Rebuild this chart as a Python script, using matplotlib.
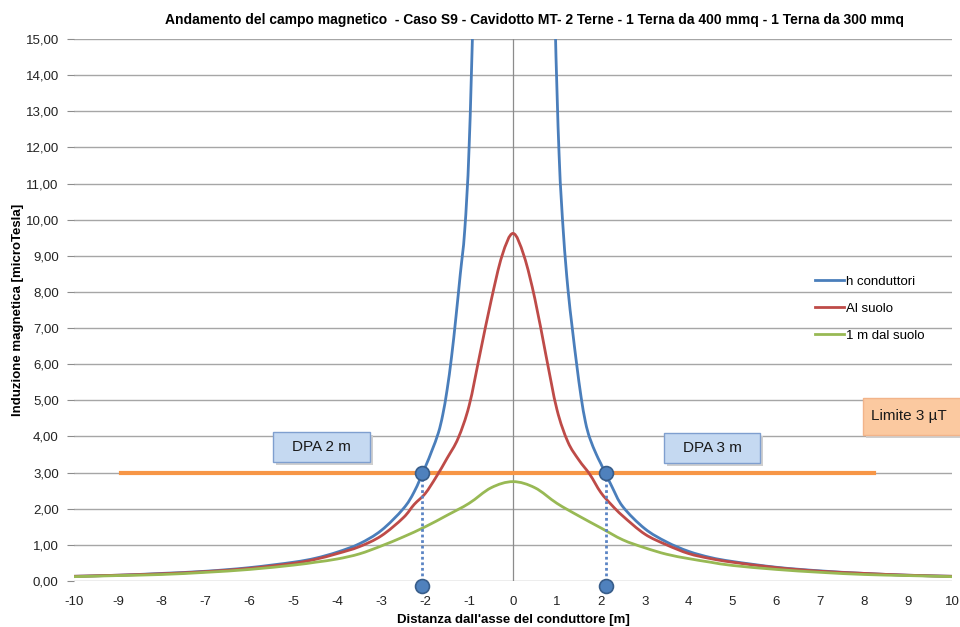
import numpy as np
import matplotlib
matplotlib.use("Agg")
import matplotlib.pyplot as plt
from matplotlib.patches import Rectangle, PathPatch
from matplotlib.path import Path
from matplotlib.lines import Line2D
from matplotlib.ticker import FuncFormatter

plt.rcParams['font.family'] = ['Liberation Sans', 'DejaVu Sans']
plt.rcParams['axes.unicode_minus'] = False

title = "Andamento del campo magnetico  - Caso S9 - Cavidotto MT- 2 Terne - 1 Terna da 400 mmq - 1 Terna da 300 mmq"
x_label = "Distanza dall'asse del conduttore [m]"
y_label = "Induzione magnetica [microTesla]"
series_names = ["h conduttori", "Al suolo", "1 m dal suolo"]

# h conduttori (goes off the chart near the axis)
x_blue = [-10, -9, -8, -7, -6, -5, -4.5, -4, -3.5, -3, -2.5, -2.25, -2, -1.85, -1.7, -1.6, -1.5, -1.4,
          -1.3, -1.2, -1.1, -1.0, -0.9, -0.8, 0.8, 0.95, 1.05, 1.15, 1.25, 1.35, 1.45, 1.55, 1.65,
          1.75, 1.9, 2.0, 2.25, 2.5, 3.0, 3.5, 4, 4.5, 5, 6, 7, 8, 9, 10]
y_blue = [0.13, 0.16, 0.21, 0.27, 0.37, 0.52, 0.63, 0.80, 1.03, 1.40, 2.00, 2.47, 3.15, 3.60, 4.10,
          4.60, 5.30, 6.2, 7.3, 8.5, 9.7, 12.0, 16.5, 25.0, 25.0, 16.0, 11.8, 9.6, 8.1, 7.0, 6.0,
          5.1, 4.40, 3.95, 3.50, 3.25, 2.62, 2.06, 1.45, 1.08, 0.82, 0.65, 0.54, 0.38, 0.28, 0.21,
          0.16, 0.13]

# Al suolo
x_red = [-10, -9, -8, -7, -6, -5, -4.5, -4, -3.5, -3, -2.5, -2.25, -2, -1.75, -1.5, -1.25, -1, -0.75,
         -0.5, -0.25, 0, 0.25, 0.5, 0.75, 1, 1.25, 1.5, 1.75, 2, 2.25, 2.5, 3, 3.5, 4, 4.5, 5, 6, 7,
         8, 9, 10]
y_red = [0.13, 0.16, 0.20, 0.26, 0.35, 0.49, 0.60, 0.76, 0.95, 1.25, 1.75, 2.12, 2.42, 2.88, 3.40, 3.95,
         4.85, 6.30, 7.75, 9.00, 9.62, 9.00, 7.80, 6.25, 4.75, 3.85, 3.35, 2.95, 2.45, 2.10, 1.80,
         1.30, 1.00, 0.76, 0.62, 0.52, 0.37, 0.27, 0.21, 0.16, 0.13]

# 1 m dal suolo
x_green = [-10, -9, -8, -7, -6, -5, -4.5, -4, -3.5, -3, -2.5, -2, -1.5, -1, -0.5,
           0, 0.5, 1, 1.5, 2, 2.5, 3, 3.5, 4, 4.5, 5, 6, 7, 8, 9, 10]
y_green = [0.12, 0.15, 0.18, 0.24, 0.32, 0.44, 0.52, 0.61, 0.75, 0.97, 1.22, 1.50, 1.82, 2.15, 2.58,
           2.75, 2.58, 2.15, 1.80, 1.47, 1.14, 0.92, 0.74, 0.62, 0.52, 0.43, 0.32, 0.24, 0.18, 0.15, 0.12]

limit_x = [-8.92, 8.22]
limit_y = [3.0, 3.0]

dpa_x = [-2.07, 2.12]
dpa_y = [3.0, 3.0]
dpa_foot = [-0.14, -0.14]


def smooth_path(xs, ys):
    # Catmull-Rom style cubic Bezier through the points (like a smoothed spreadsheet line)
    p = np.column_stack([xs, ys]).astype(float)
    n = len(p)
    verts = [p[0]]
    codes = [Path.MOVETO]
    for i in range(n - 1):
        p0 = p[i - 1] if i > 0 else p[i]
        p3 = p[i + 2] if i + 2 < n else p[i + 1]
        c1 = p[i] + (p[i + 1] - p0) / 6.0
        c2 = p[i + 1] - (p3 - p[i]) / 6.0
        verts += [c1, c2, p[i + 1]]
        codes += [Path.CURVE4] * 3
    return Path(verts, codes)


fig = plt.figure(figsize=(9.6, 6.27), dpi=100)
ax = fig.add_axes([74 / 960, 46 / 627, 878 / 960, 542 / 627])

for yy in range(0, 16):
    ax.axhline(yy, color="#a6a6a6", lw=1.0, zorder=1)
ax.axvline(0, color="#8c8c8c", lw=0.9, zorder=1)

colors = ["#4a7ebb", "#be4b48", "#98b954"]
for (xs, ys), c in zip([(x_blue, y_blue), (x_red, y_red), (x_green, y_green)], colors):
    ax.add_patch(PathPatch(smooth_path(xs, ys), facecolor="none", edgecolor=c, lw=2.0,
                           zorder=4, capstyle="round", joinstyle="round"))
ax.plot(limit_x, limit_y, color="#f79646", lw=3.0, zorder=3)

for xx, y0, y1 in zip(dpa_x, dpa_y, dpa_foot):
    ax.plot([xx, xx], [y0, y1], color="#5b84c4", lw=2.0, ls=(0, (1, 1)), zorder=5, clip_on=False)
ax.plot(dpa_x, dpa_y, "o", ms=10, mfc="#4f81bd", mec="#385d8a", mew=1.2, zorder=6)
ax.plot(dpa_x, dpa_foot, "o", ms=10, mfc="#4f81bd", mec="#385d8a", mew=1.2, zorder=6, clip_on=False)


def label_box(x0, x1, y0, y1, text, face, edge, clip=True, tx=None):
    ax.add_patch(Rectangle((x0 + 0.06, y0 - 0.08), x1 - x0, y1 - y0, facecolor="#cfcfcf",
                           edgecolor="none", zorder=6, clip_on=clip))
    ax.add_patch(Rectangle((x0, y0), x1 - x0, y1 - y0, facecolor=face, edgecolor=edge,
                           lw=1.0, zorder=7, clip_on=clip))
    if tx is None:
        tx = (x0 + x1) / 2
    ax.text(tx, (y0 + y1) / 2, text, ha="center", va="center", fontsize=11,
            color="#1a1a1a", zorder=8, clip_on=False)


label_box(-5.47, -3.26, 3.29, 4.12, "DPA 2 m", "#c5d9f1", "#7f9fcf")
label_box(3.44, 5.63, 3.27, 4.10, "DPA 3 m", "#c5d9f1", "#7f9fcf")
label_box(7.97, 10.3, 4.04, 5.07, "Limite 3 µT", "#fbc9a0", "#f2b48a", clip=False, tx=9.02)

ax.set_xlim(-10, 10)
ax.set_ylim(0, 15)
ax.set_xticks(range(-10, 11))
ax.set_yticks(range(0, 16))
ax.yaxis.set_major_formatter(FuncFormatter(lambda v, p: f"{v:.2f}".replace(".", ",")))
ax.tick_params(axis="y", length=5, color="#8c8c8c", labelsize=9.5, pad=6, labelcolor="#222222")
ax.tick_params(axis="x", length=0, labelsize=9.5, pad=11, labelcolor="#222222")
for s in ax.spines.values():
    s.set_visible(False)

ax.set_xlabel(x_label, fontsize=9.5, fontweight="bold")
ax.xaxis.set_label_coords(0.5, -0.06)
ax.set_ylabel(y_label, fontsize=9.5, fontweight="bold")
ax.yaxis.set_label_coords(-0.057, 0.5)
fig.text(0.557, 1 - 20 / 627, title, ha="center", va="center", fontsize=10, fontweight="bold")

handles = [Line2D([], [], color=c, lw=2.0) for c in colors]
ax.legend(handles, series_names, loc="upper left", bbox_to_anchor=(0.83, 0.585), frameon=False,
          fontsize=9.5, handlelength=2.2, handletextpad=0.2, labelspacing=1.1)

fig.savefig("out.png", dpi=100)
